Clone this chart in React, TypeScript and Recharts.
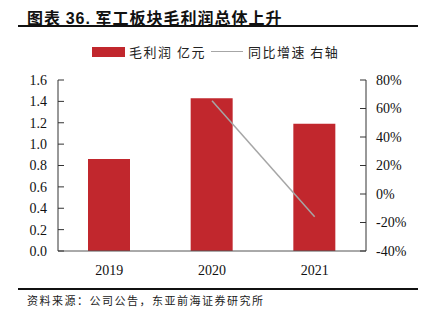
import { ComposedChart, Bar, Line, XAxis, YAxis } from 'recharts';

// 军工板块毛利润（亿元）及同比增速
const years = ['2019', '2020', '2021'];
const grossProfit = [0.86, 1.43, 1.19];
const yoyGrowth = [null, 65.5, -16.0];

const leftTicks = [0, 0.2, 0.4, 0.6, 0.8, 1.0, 1.2, 1.4, 1.6];
const rightTicks = [-40, -20, 0, 20, 40, 60, 80];

const RED = '#C1272D';
const GREY = '#A6A6A6';
const SERIF = '"Liberation Serif", "DejaVu Serif", serif';
const CJK = '"Noto Sans CJK SC", sans-serif';

const chartData = years.map((y, i) => ({
  year: y,
  profit: grossProfit[i],
  yoy: yoyGrowth[i],
}));

// 刻度文字统一用衬线字体
const SerifTick = (props: any) => {
  const { x, y, payload, textAnchor, formatter } = props;
  const label = formatter ? formatter(payload.value) : payload.value;
  return (
    <text x={x} y={y} dy="0.355em" textAnchor={textAnchor} fill="#111" fontSize={14} fontFamily={SERIF}>
      {label}
    </text>
  );
};

const App = () => {
  return (
    <div style={{ position: 'absolute', left: 0, top: 0, width: 428, height: 323, background: '#fff' }}>
      {/* 标题 */}
      <div
        style={{
          position: 'absolute', left: 27, top: 5, fontFamily: CJK, fontWeight: 700,
          fontSize: 16, letterSpacing: 1, color: '#111', whiteSpace: 'nowrap',
        }}
      >
        图表 <span style={{ fontFamily: '"Liberation Sans", sans-serif' }}>36.</span> 军工板块毛利润总体上升
      </div>
      <div style={{ position: 'absolute', left: 18, top: 25, width: 400, height: 2, background: '#111' }} />

      {/* 图例 */}
      <div
        style={{
          position: 'absolute', left: 92, top: 42, display: 'flex', alignItems: 'center',
          fontFamily: CJK, fontSize: 13, color: '#222', whiteSpace: 'nowrap',
        }}
      >
        <span style={{ display: 'inline-block', width: 33, height: 10, background: RED, marginRight: 4 }} />
        <span style={{ letterSpacing: 1.5 }}>毛利润 亿元</span>
        <span style={{ display: 'inline-block', width: 32, height: 1.5, background: GREY, margin: '0 5px 0 5px' }} />
        <span style={{ letterSpacing: 1.5 }}>同比增速 右轴</span>
      </div>

      <div style={{ position: 'absolute', left: 0, top: 0 }}>
        <ComposedChart width={428} height={323} data={chartData} margin={{ top: 80, right: 0, bottom: 42, left: 0 }}>
          <XAxis
            dataKey="year"
            height={30}
            tickLine={false}
            axisLine={{ stroke: '#555' }}
            tickMargin={8}
            tick={{ fill: '#111', fontSize: 14, fontFamily: SERIF }}
          />
          <YAxis
            yAxisId="left"
            width={58}
            domain={[0, 1.6]}
            ticks={leftTicks}
            interval={0}
            axisLine={{ stroke: '#333' }}
            tickLine={{ stroke: '#333' }}
            tickSize={-6}
            tickMargin={17}
            tick={<SerifTick formatter={(v: number) => v.toFixed(1)} />}
          />
          <YAxis
            yAxisId="right"
            orientation="right"
            width={62}
            domain={[-40, 80]}
            ticks={rightTicks}
            interval={0}
            axisLine={{ stroke: '#333' }}
            tickLine={{ stroke: '#333' }}
            tickSize={-6}
            tickMargin={16}
            tick={<SerifTick formatter={(v: number) => `${v}%`} />}
          />
          <Bar yAxisId="left" dataKey="profit" fill={RED} barSize={42} isAnimationActive={false} />
          <Line
            yAxisId="right"
            dataKey="yoy"
            stroke={GREY}
            strokeWidth={1.5}
            dot={false}
            activeDot={false}
            connectNulls={false}
            isAnimationActive={false}
          />
        </ComposedChart>
      </div>

      {/* 资料来源 */}
      <div style={{ position: 'absolute', left: 18, top: 288, width: 400, height: 2, background: '#111' }} />
      <div
        style={{
          position: 'absolute', left: 27, top: 292, fontFamily: CJK, fontSize: 11,
          letterSpacing: 1.5, color: '#222', whiteSpace: 'nowrap',
        }}
      >
        资料来源：公司公告，东亚前海证券研究所
      </div>
    </div>
  );
};

export default App;
